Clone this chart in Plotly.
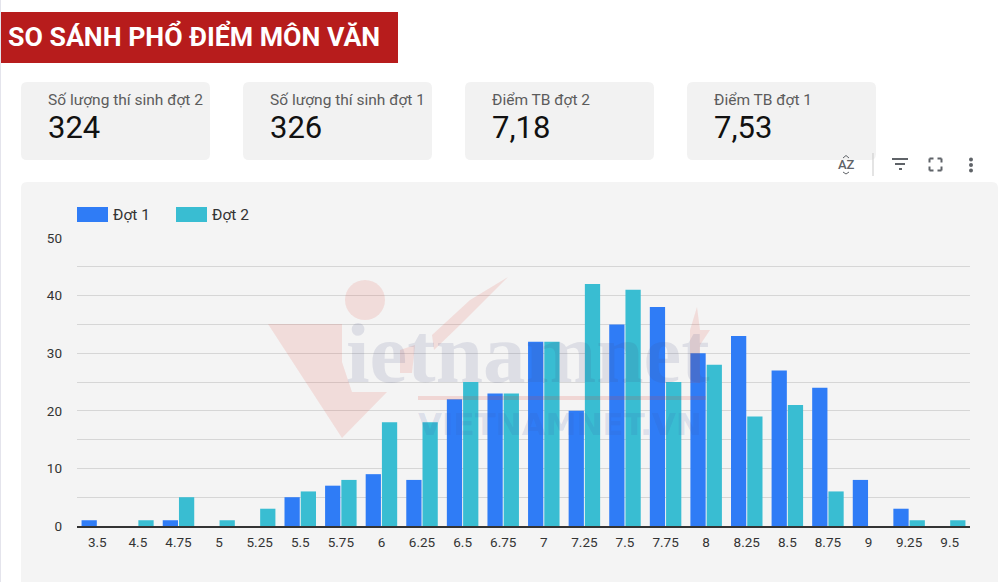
import plotly.graph_objects as go

W = 1000
H = 582

scores = ["3.5", "4.5", "4.75", "5", "5.25", "5.5", "5.75", "6", "6.25", "6.5", "6.75",
          "7", "7.25", "7.5", "7.75", "8", "8.25", "8.5", "8.75", "9", "9.25", "9.5"]
dot_1 = [1, 0, 1, 0, 0, 5, 7, 9, 8, 22, 23, 32, 20, 35, 38, 30, 33, 27, 24, 8, 3, 0]
dot_2 = [0, 1, 5, 1, 3, 6, 8, 18, 18, 25, 23, 32, 42, 41, 25, 28, 19, 21, 6, 0, 1, 1]

series_names = ["Đợt 1", "Đợt 2"]
series_colors = ["#2f7cf6", "#39bdd2"]

title_text = "SO SÁNH PHỔ ĐIỂM MÔN VĂN"
card_labels = ["Số lượng thí sinh đợt 2", "Số lượng thí sinh đợt 1", "Điểm TB đợt 2", "Điểm TB đợt 1"]
card_values = ["324", "326", "7,18", "7,53"]
card_lefts = [21, 243, 465, 687]

PANEL = "#f4f4f4"
FONT = "Roboto"


def px(x):
    return x / W


def py(y):
    return 1 - y / H


def rect(x0, y0, x1, y1, color, radius=0):
    # rounded rectangle in page pixels
    r = radius
    if r:
        path = (f"M{px(x0 + r)},{py(y0)} L{px(x1 - r)},{py(y0)} Q{px(x1)},{py(y0)} {px(x1)},{py(y0 + r)} "
                f"L{px(x1)},{py(y1 - r)} Q{px(x1)},{py(y1)} {px(x1 - r)},{py(y1)} "
                f"L{px(x0 + r)},{py(y1)} Q{px(x0)},{py(y1)} {px(x0)},{py(y1 - r)} "
                f"L{px(x0)},{py(y0 + r)} Q{px(x0)},{py(y0)} {px(x0 + r)},{py(y0)} Z")
        return dict(type="path", path=path, xref="paper", yref="paper", fillcolor=color,
                    line_width=0, layer="below")
    return dict(type="rect", x0=px(x0), x1=px(x1), y0=py(y0), y1=py(y1), xref="paper", yref="paper",
                fillcolor=color, line_width=0, layer="below")


def line(x0, y0, x1, y1, color, width=1.5):
    return dict(type="line", x0=px(x0), x1=px(x1), y0=py(y0), y1=py(y1), xref="paper", yref="paper",
                line=dict(color=color, width=width))


def poly(points, color):
    path = "M" + " L".join(f"{px(x)},{py(y)}" for x, y in points) + " Z"
    return dict(type="path", path=path, xref="paper", yref="paper", fillcolor=color, line_width=0)


def label(x, y, text, size, color, weight=400, family=FONT, xanchor="left"):
    return dict(x=px(x), y=py(y), xref="paper", yref="paper", text=text, showarrow=False,
                xanchor=xanchor, yanchor="middle", align="left", borderpad=0, borderwidth=0,
                font=dict(family=family, size=size, color=color, weight=weight))


shapes = []
annotations = []

# header, cards and chart panel
shapes.append(rect(0, 0, 1, H, "#e4e4ec"))
shapes.append(rect(1, 12, 398, 63, "#b71c1c"))
annotations.append(label(8, 36, title_text, 26.7, "white", weight=700))
for left, name, value in zip(card_lefts, card_labels, card_values):
    shapes.append(rect(left, 82, left + 189, 160, "#f2f2f2", radius=6))
    annotations.append(label(left + 27, 100, name, 15.5, "#5c5c5c"))
    annotations.append(label(left + 27, 127, value, 31, "#111111"))
shapes.append(rect(21, 182, 998, 600, PANEL, radius=6))

# legend drawn as in the source dashboard
for x, name, color in zip([77, 176], series_names, series_colors):
    shapes.append(rect(x, 207, x + 31, 222, color))
    annotations.append(label(x + 36, 215, name, 15.5, "#333333"))

# toolbar icons
GRAY = "#5f6368"
annotations.append(label(846, 164.5, "AZ", 13, GRAY, weight=500, xanchor="center"))
shapes.append(line(843, 158, 846, 155.5, GRAY, 1))
shapes.append(line(846, 155.5, 849, 158, GRAY, 1))
shapes.append(line(843, 172, 846, 174, GRAY, 1))
shapes.append(line(846, 174, 849, 172, GRAY, 1))
shapes.append(line(873, 153, 873, 176, "#c9c9c9", 1))
shapes.append(line(892, 159, 908, 159, GRAY, 2))
shapes.append(line(895, 164, 905, 164, GRAY, 2))
shapes.append(line(899, 169, 902, 169, GRAY, 2))
for cx, dx in [(929.5, 4), (941.5, -4)]:
    for cy, dy in [(158.5, 4), (170.5, -4)]:
        shapes.append(line(cx, cy, cx + dx, cy, GRAY, 2))
        shapes.append(line(cx, cy, cx, cy + dy, GRAY, 2))
for cy in [159.5, 165, 170.5]:
    shapes.append(dict(type="circle", x0=px(969), x1=px(973), y0=py(cy - 2), y1=py(cy + 2),
                       xref="paper", yref="paper", fillcolor=GRAY, line_width=0))

# vietnamnet watermark sits on top of the bars
RED_MARK = "rgba(225,60,50,0.13)"
shapes.append(dict(type="circle", x0=px(345), x1=px(385), y0=py(280), y1=py(320),
                   xref="paper", yref="paper", fillcolor=RED_MARK, line_width=0))
shapes.append(poly([(268, 324), (342, 324), (342, 362), (352, 392), (387, 392), (342, 438)], RED_MARK))
shapes.append(poly([(508, 277), (470, 300), (432, 335), (434, 350), (460, 325)], RED_MARK))
shapes.append(poly([(400, 350), (415, 345), (412, 373), (400, 373)], RED_MARK))
shapes.append(poly([(690, 330), (697, 307), (700, 330), (710, 330), (700, 345), (700, 383), (690, 383)], RED_MARK))
shapes.append(rect(418, 396, 706, 400, "rgba(225,60,50,0.16)"))
shapes[-1]["layer"] = "above"
annotations.append(label(346, 353, "ietnamnet", 85, "rgba(70,75,130,0.13)", weight=700,
                         family="Liberation Serif"))
annotations.append(label(418, 424, "VIETNAMNET.VN", 31, "rgba(60,90,170,0.15)", weight=700,
                         family="DejaVu Sans"))

fig = go.Figure()
for name, values, color in zip(series_names, [dot_1, dot_2], series_colors):
    fig.add_trace(go.Bar(x=scores, y=values, name=name, marker=dict(color=color, line_width=0)))

fig.update_layout(
    width=W,
    height=H,
    margin=dict(l=0, r=0, t=0, b=0),
    autosize=False,
    paper_bgcolor="white",
    plot_bgcolor="rgba(0,0,0,0)",
    showlegend=False,
    barmode="group",
    bargap=0.2,
    bargroupgap=0.06,
    font=dict(family=FONT, size=13, color="#333333"),
    shapes=shapes,
    annotations=annotations,
)
fig.update_xaxes(
    type="category",
    categoryorder="array",
    categoryarray=scores,
    domain=[px(77), px(970)],
    automargin=False,
    showgrid=False,
    showline=True,
    linecolor="#333333",
    linewidth=1.5,
    ticks="",
    tickangle=0,
    ticklabelstandoff=3,
    tickfont=dict(size=13.5, color="#333333"),
)
fig.update_yaxes(
    range=[0, 50],
    domain=[py(526), py(238)],
    automargin=False,
    dtick=10,
    showgrid=True,
    gridcolor="#d6d6d6",
    gridwidth=1,
    minor=dict(dtick=5, showgrid=True, gridcolor="#d6d6d6", gridwidth=1),
    zeroline=False,
    ticks="",
    ticklabelstandoff=14,
    tickfont=dict(size=13.5, color="#333333"),
)

fig.write_html("out.html", config=dict(displayModeBar=False),
               post_script="document.body.style.margin='0';")
